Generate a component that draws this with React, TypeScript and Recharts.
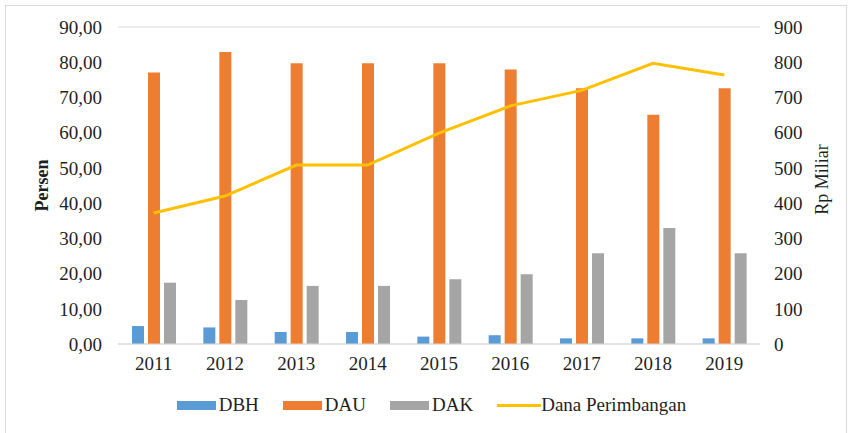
import { Bar, CartesianGrid, ComposedChart, Legend, Line, XAxis, YAxis } from "recharts";

const years = ["2011", "2012", "2013", "2014", "2015", "2016", "2017", "2018", "2019"];
const dbh = [5.1, 4.7, 3.4, 3.4, 2.1, 2.5, 1.6, 1.6, 1.6];
const dau = [77.1, 82.9, 79.7, 79.7, 79.7, 77.9, 72.6, 65.1, 72.6];
const dak = [17.4, 12.5, 16.5, 16.5, 18.4, 19.8, 25.8, 32.9, 25.8];
const danaPerimbangan = [372, 420, 508, 508, 599, 676, 720, 797, 764];

const leftTicks = [0, 10, 20, 30, 40, 50, 60, 70, 80, 90];
const rightTicks = [0, 100, 200, 300, 400, 500, 600, 700, 800, 900];

const data = years.map((year, i) => ({
  year,
  DBH: dbh[i],
  DAU: dau[i],
  DAK: dak[i],
  dana: danaPerimbangan[i],
}));

const FONT = "'Liberation Serif', 'Times New Roman', serif";
const TEXT = "#1f1f1f";
const COLORS = { DBH: "#5B9BD5", DAU: "#ED7D31", DAK: "#A5A5A5", dana: "#FFC000" };

const legendItems = [
  { name: "DBH", color: COLORS.DBH, kind: "bar" },
  { name: "DAU", color: COLORS.DAU, kind: "bar" },
  { name: "DAK", color: COLORS.DAK, kind: "bar" },
  { name: "Dana Perimbangan", color: COLORS.dana, kind: "line" },
];

const ChartLegend = () => (
  <div
    style={{
      display: "flex",
      justifyContent: "center",
      alignItems: "center",
      paddingLeft: 12,
      height: 24,
      fontFamily: FONT,
      fontSize: 19,
      color: TEXT,
    }}
  >
    {legendItems.map((it, i) => (
      <div key={it.name} style={{ display: "flex", alignItems: "center", marginLeft: i === 0 ? 0 : 24 }}>
        {it.kind === "bar" ? (
          <span style={{ display: "inline-block", width: 39, height: 9, background: it.color, marginRight: 3 }} />
        ) : (
          <span style={{ display: "inline-block", width: 44, height: 3, background: it.color }} />
        )}
        <span>{it.name}</span>
      </div>
    ))}
  </div>
);

export default function App() {
  return (
    <div style={{ position: "relative", width: 851, height: 433, overflow: "hidden", background: "#fff" }}>
      <style>{`body{margin:0}`}</style>
      <div
        style={{
          position: "absolute",
          left: 5,
          top: 5,
          width: 840,
          height: 440,
          border: "1px solid #d9d9d9",
        }}
      />
      <ComposedChart
        width={851}
        height={433}
        data={data}
        margin={{ top: 27, right: 0, left: 0, bottom: 16 }}
        barSize={12}
        barGap={4}
        style={{ position: "absolute", left: 0, top: 0 }}
      >
        <CartesianGrid vertical={false} stroke="#d9d9d9" />
        <XAxis
          dataKey="year"
          height={49}
          axisLine={{ stroke: "#d9d9d9" }}
          tickLine={false}
          tickSize={0}
          tickMargin={13}
          tick={{ fill: TEXT, fontSize: 19, fontFamily: FONT }}
        />
        <YAxis
          yAxisId="left"
          width={118}
          domain={[0, 90]}
          ticks={leftTicks}
          axisLine={false}
          tickLine={false}
          tickSize={0}
          tickMargin={16}
          tickFormatter={(v: number) => v.toFixed(2).replace(".", ",")}
          tick={{ fill: TEXT, fontSize: 19, fontFamily: FONT }}
          label={{
            value: "Persen",
            angle: -90,
            position: "center",
            dx: -17,
            fill: TEXT,
            fontSize: 18,
            fontWeight: "bold",
            fontFamily: FONT,
          }}
        />
        <YAxis
          yAxisId="right"
          orientation="right"
          width={91}
          domain={[0, 900]}
          ticks={rightTicks}
          axisLine={false}
          tickLine={false}
          tickSize={0}
          tickMargin={14}
          tick={{ fill: TEXT, fontSize: 19, fontFamily: FONT }}
          label={{ value: "Rp Miliar", angle: -90, position: "center", dx: 16, dy: -6, fill: TEXT, fontSize: 18, fontFamily: FONT }}
        />
        <Legend verticalAlign="bottom" content={<ChartLegend />} />
        <Bar yAxisId="left" dataKey="DBH" fill={COLORS.DBH} isAnimationActive={false} />
        <Bar yAxisId="left" dataKey="DAU" fill={COLORS.DAU} isAnimationActive={false} />
        <Bar yAxisId="left" dataKey="DAK" fill={COLORS.DAK} isAnimationActive={false} />
        <Line
          yAxisId="right"
          dataKey="dana"
          name="Dana Perimbangan"
          type="linear"
          stroke={COLORS.dana}
          strokeWidth={3}
          dot={false}
          isAnimationActive={false}
        />
      </ComposedChart>
    </div>
  );
}
